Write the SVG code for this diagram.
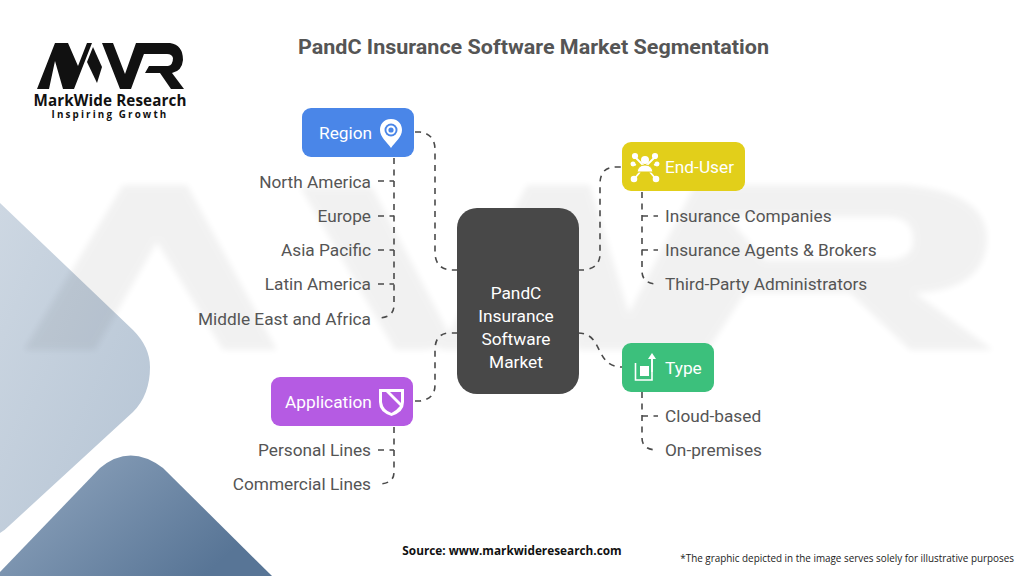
<svg xmlns="http://www.w3.org/2000/svg" width="1024" height="576" viewBox="0 0 1024 576">
<style>
.t{font-family:Roboto,"Liberation Sans",sans-serif;font-size:17.25px;fill:#555}
.w{font-family:Roboto,"Liberation Sans",sans-serif;font-size:17.3px;fill:#fff}
.c{fill:none;stroke:#4a4a4a;stroke-width:1.6;stroke-dasharray:6 5.5}
.b{font-family:"Open Sans","Liberation Sans",sans-serif;font-weight:700}
</style>
<defs>
<linearGradient id="g1" x1="0" y1="0" x2="1" y2="1"><stop offset="0" stop-color="#cdd7e2"/><stop offset="1" stop-color="#b5c4d4"/></linearGradient>
<linearGradient id="g2" x1="0" y1="0" x2="1" y2="0.5"><stop offset="0" stop-color="#93a8c0"/><stop offset="1" stop-color="#587596"/></linearGradient>
<filter id="blur" x="-5%" y="-5%" width="110%" height="110%"><feGaussianBlur stdDeviation="3"/></filter>
</defs>
<rect width="1024" height="576" fill="#fff"/>
<g id="background">
<path d="M0 203L133 330Q150 347 150 367Q150 395 133 412L10 525Q5 530 0 533Z" fill="url(#g1)"/>
<path d="M0 572L100 468Q130 443 163 468L272 576H0Z" fill="url(#g2)"/>
<g fill="#000" opacity="0.05" filter="url(#blur)">
<path d="M24 350L123 185H187L277 350H223L157 242L95 350Z"/>
<path d="M300 187H372L455 345L425 350H395Z"/>
<path d="M440 350L527 185H590L640 350H578L552 265L510 350Z"/>
<path d="M610 350L695 185H900Q987 190 987 240Q985 290 915 293L993 350H910L850 293H745L708 350ZM727 217L765 260H890Q915 258 913 238Q912 218 890 217Z" fill-rule="evenodd"/>
</g>
</g>
<g id="logo" fill="#111">
<path d="M37 89L55 43H68L78 66L87 43H92L74 89H63L55 61L49 89Z"/>
<path d="M93 47L87 62L97 83L102 67Z"/>
<path d="M102 43H113L125 74L136 43H148L131 89H120Z"/>
<path d="M147 43H170Q183 45 183 60Q182 71 172 73L184 89H171L160 73H145L149 66H168Q173 65 173 58Q172 54 167 54H143Z"/>
<text x="110" y="106" text-anchor="middle" class="b" font-size="15.200" letter-spacing="0.12" fill="#111">MarkWide Research</text>
<text x="110" y="118" text-anchor="middle" class="b" font-size="9.800" letter-spacing="2.150" fill="#111">Inspiring Growth</text>
</g>
<text id="title" x="533.500" y="54" text-anchor="middle" font-family="Roboto" font-weight="700" font-size="21" fill="#555" textLength="471" lengthAdjust="spacingAndGlyphs">PandC Insurance Software Market Segmentation</text>
<g id="connectors">
<path class="c" d="M415 132H420Q435 134 435 150V252Q435 270 453 270H458"/>
<path class="c" d="M578 270H584Q600 268 600 254V184Q600 167 616 167H622"/>
<path class="c" d="M578 333C604 333 594 367 622 367"/>
<path class="c" d="M415 401H420Q435 399 435 385V350Q435 333 450 333H458"/>
<path class="c" d="M394 158V305Q394 318 378 318"/>
<path class="c" d="M378 181H394M378 216H394M378 250H394M378 284H394"/>
<path class="c" d="M642 192V271Q642 284 658 284"/>
<path class="c" d="M642 216H658M642 250H658"/>
<path class="c" d="M642 392V438Q642 450 658 450"/>
<path class="c" d="M642 416H658"/>
<path class="c" d="M394 427V472Q394 484 378 484"/>
<path class="c" d="M378 450H394"/>
</g>
<g id="center"><rect x="457" y="208" width="122" height="186" rx="20" fill="#484848"/>
<g class="w" text-anchor="middle"><text x="516" y="298.500">PandC</text><text x="516" y="322">Insurance</text><text x="516" y="345">Software</text><text x="516" y="367.500">Market</text></g></g>
<g id="region"><rect x="302" y="108" width="112" height="49" rx="9" fill="#4a86e8"/><text class="w" x="319" y="139">Region</text>
<path d="M391 119C383 119 380 125 380 130C380 137 387 142 391 148C395 142 402 137 402 130C402 125 399 119 391 119Z" fill="#fff"/><circle cx="391" cy="130" r="6.500" fill="#4a86e8"/><circle cx="391" cy="130" r="3.600" fill="none" stroke="#fff" stroke-width="2"/><circle cx="391" cy="130" r="1.300" fill="#4a86e8"/></g>
<g id="enduser"><rect x="622" y="142" width="123" height="49" rx="9" fill="#e2cf1a"/><text class="w" x="665" y="173">End-User</text>
<g stroke="#fff" stroke-width="1.800" fill="#fff"><path d="M645 167L635 157M645 167L655 157M636 165L633 164M654 165L657 164M640 172L635 178M650 172L655 178"/><circle cx="635" cy="156" r="2.200"/><circle cx="655" cy="156" r="2.200"/><circle cx="633" cy="164" r="1.600"/><circle cx="657" cy="164" r="1.600"/><circle cx="634" cy="179" r="2.400"/><circle cx="656" cy="179" r="2.400"/></g><circle cx="645" cy="160" r="4" fill="#fff"/><path d="M637 172Q638 165 645 165Q652 165 653 172Z" fill="#fff" stroke="#e2cf1a"/></g>
<g id="type"><rect x="622" y="343" width="92" height="49" rx="9" fill="#3cc07c"/><text class="w" x="665" y="374">Type</text>
<path d="M635.500 363V380H652V357" fill="none" stroke="#fff" stroke-width="1.600"/><rect x="640" y="366" width="9" height="10" fill="#fff"/><path d="M652 357V372" stroke="#fff" stroke-width="1.600"/><path d="M652 353L656 359H648Z" fill="#fff"/></g>
<g id="application"><rect x="271" y="377" width="142" height="49" rx="9" fill="#b55be3"/><text class="w" x="285" y="408">Application</text>
<path d="M379 389H404V402Q404 412 391.500 416Q379 412 379 402Z" fill="#fff"/><path d="M382 392H386L400 406Q396 411 391.500 413Q383 410 382 402Z" fill="#b55be3"/><path d="M390 392H401V403Z" fill="#b55be3"/></g>
<g id="region-items" class="t" text-anchor="end">
<text x="371" y="187.500">North America</text><text x="371" y="222">Europe</text><text x="371" y="256">Asia Pacific</text><text x="371" y="290">Latin America</text><text x="371" y="324.500">Middle East and Africa</text></g>
<g id="application-items" class="t" text-anchor="end"><text x="371" y="456">Personal Lines</text><text x="371" y="490">Commercial Lines</text></g>
<g id="enduser-items" class="t"><text x="665" y="222">Insurance Companies</text><text x="665" y="256">Insurance Agents &amp; Brokers</text><text x="665" y="290">Third-Party Administrators</text></g>
<g id="type-items" class="t"><text x="665" y="422">Cloud-based</text><text x="665" y="456">On-premises</text></g>
<text x="512" y="555" text-anchor="middle" class="b" font-size="11.800" fill="#111">Source: www.markwideresearch.com</text>
<text x="1014" y="562" text-anchor="end" font-family="Open Sans" font-size="9.900" fill="#222">*The graphic depicted in the image serves solely for illustrative purposes</text>
</svg>
